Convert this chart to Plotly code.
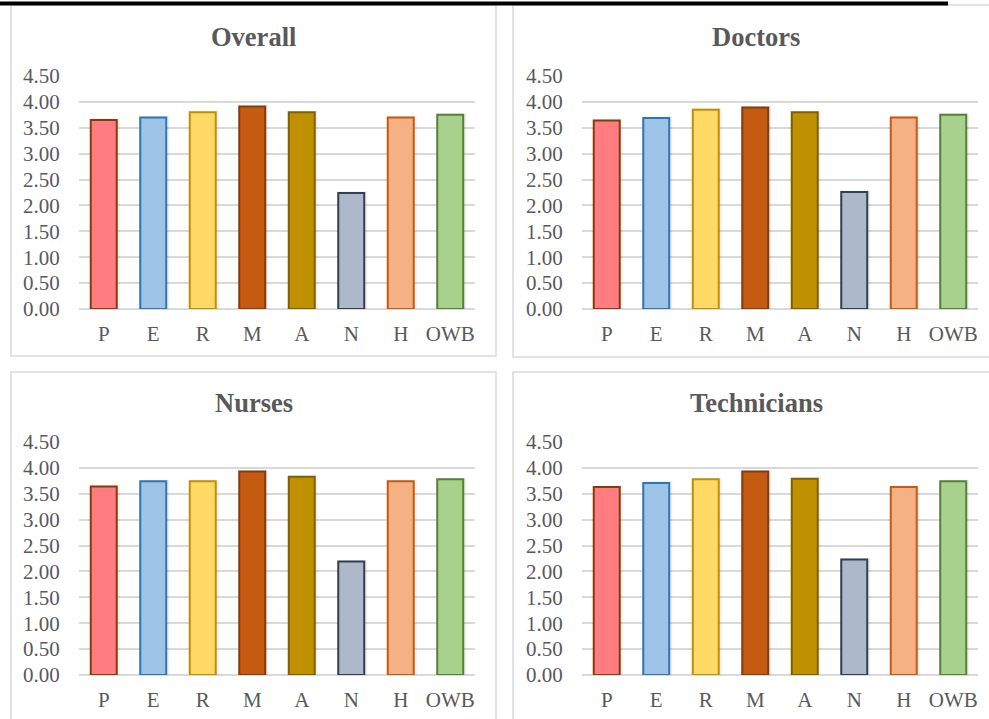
import plotly.graph_objects as go

# Wellbeing domain scores by staff group
categories = ["P", "E", "R", "M", "A", "N", "H", "OWB"]
overall = [3.65, 3.70, 3.80, 3.91, 3.80, 2.24, 3.70, 3.75]
doctors = [3.64, 3.69, 3.85, 3.89, 3.80, 2.26, 3.70, 3.75]
nurses = [3.64, 3.74, 3.74, 3.93, 3.83, 2.19, 3.74, 3.78]
technicians = [3.63, 3.71, 3.78, 3.93, 3.79, 2.23, 3.63, 3.74]
panel_titles = ["Overall", "Doctors", "Nurses", "Technicians"]

fill_colors = ["#FF7C80", "#9DC3E6", "#FFD966", "#C55A11",
               "#BF9000", "#ADB9CA", "#F4B183", "#A9D18E"]
edge_colors = ["#843C0C", "#2E75B6", "#BF9000", "#843C0C",
               "#7F6000", "#333F50", "#C55A11", "#548235"]

W, H = 989, 719
FONT = "Liberation Serif, Times New Roman, serif"
TXT = "#595959"
GRID = "#D9D9D9"
BAR_W = 0.525          # bar width in category units
CAT_PX = 49.5          # pixels per category slot


def px(x):
    return x / W


def py(y):
    return 1 - y / H


# plot-area boxes in pixels: (left, right, top, bottom)
boxes = [(79, 475, 76, 309), (582, 978, 76, 309),
         (79, 475, 442, 675), (582, 978, 442, 675)]
# panel frames in pixels: (x0, y0, x1, y1)
frames = [(11, 5, 496, 356), (513, 5, 1000, 357),
          (11, 372, 496, 730), (513, 372, 1000, 730)]
title_pos = [(254, 37), (756, 37), (254, 403), (756, 403)]

series = [overall, doctors, nurses, technicians]

fig = go.Figure()
layout = dict(
    width=W, height=H, autosize=False,
    margin=dict(l=0, r=0, t=0, b=0, autoexpand=False),
    paper_bgcolor="white", plot_bgcolor="white",
    showlegend=False, barmode="overlay",
    shapes=[], annotations=[],
)

for i, (vals, box) in enumerate(zip(series, boxes)):
    n = "" if i == 0 else str(i + 1)
    # soft halo under each bar
    halo_w = BAR_W + 4 / CAT_PX
    fig.add_trace(go.Bar(
        x=categories, y=[v + 0.03 for v in vals],
        width=halo_w, offset=-halo_w / 2 + 1 / CAT_PX,
        marker=dict(color="rgba(0,0,0,0.06)", line=dict(width=0)),
        xaxis="x" + n, yaxis="y" + n, hoverinfo="skip",
    ))
    fig.add_trace(go.Bar(
        x=categories, y=vals,
        width=BAR_W, offset=-BAR_W / 2,
        marker=dict(color=fill_colors,
                    line=dict(color=edge_colors, width=2)),
        xaxis="x" + n, yaxis="y" + n,
        hoverinfo="x+y",
    ))
    l, r, t, b = box
    layout["xaxis" + n] = dict(
        domain=[px(l), px(r)], anchor="y" + n, automargin=False,
        showgrid=False, zeroline=False, showline=False,
        ticks="outside", ticklen=6, tickcolor="rgba(0,0,0,0)",
        tickfont=dict(family=FONT, size=21, color=TXT),
        fixedrange=True,
    )
    layout["yaxis" + n] = dict(
        domain=[py(b), py(t)], anchor="x" + n, automargin=False,
        range=[0, 4.5], dtick=0.5, tickformat=".2f",
        showgrid=True, gridcolor=GRID, gridwidth=1.5,
        zeroline=True, zerolinecolor=GRID, zerolinewidth=1.5,
        showline=False,
        ticks="outside", ticklen=14, tickcolor="rgba(0,0,0,0)",
        tickfont=dict(family=FONT, size=21, color=TXT),
        fixedrange=True,
    )

for (x0, y0, x1, y1) in frames:
    layout["shapes"].append(dict(
        type="rect", xref="paper", yref="paper",
        x0=px(x0), x1=px(x1), y0=py(y1), y1=py(y0),
        line=dict(color=GRID, width=1.5), fillcolor="rgba(0,0,0,0)",
        layer="below",
    ))

# heavy rule across the top of the page
layout["shapes"].append(dict(
    type="rect", xref="paper", yref="paper",
    x0=px(0), x1=px(948), y0=py(5.5), y1=py(1.5),
    line=dict(width=0), fillcolor="black",
))

for title, (cx, cy) in zip(panel_titles, title_pos):
    layout["annotations"].append(dict(
        text="<b>" + title + "</b>", xref="paper", yref="paper",
        x=px(cx), y=py(cy), xanchor="center", yanchor="middle",
        showarrow=False, font=dict(family=FONT, size=26.5, color=TXT),
    ))

fig.update_layout(**layout)
fig.write_html("out.html")
